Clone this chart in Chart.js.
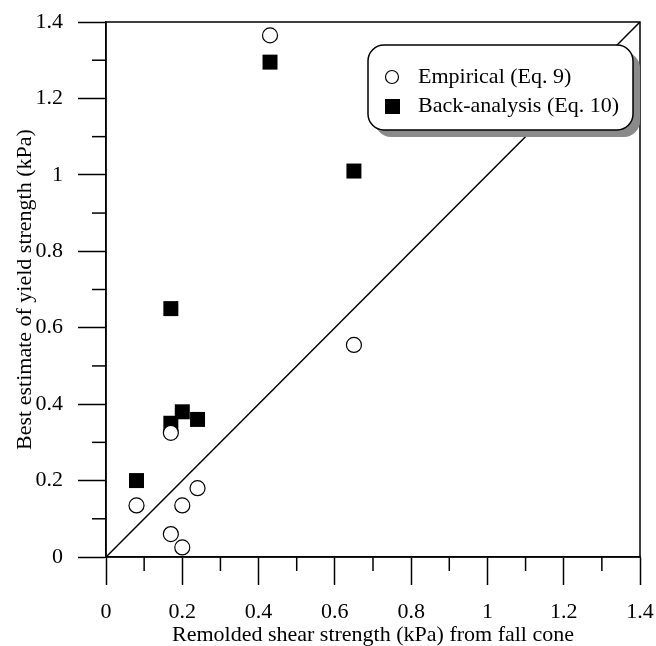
<!DOCTYPE html>
<html>
<head>
<meta charset="utf-8">
<script src="https://cdn.jsdelivr.net/npm/chart.js@4/dist/chart.umd.min.js"></script>
<style>
  body { margin: 0; background: #fff; }
  #wrap { width: 656px; height: 646px; }
</style>
</head>
<body>
<div id="wrap"><canvas id="myChart" width="656" height="646"></canvas></div>
<script>
const empiricalX = [0.08, 0.17, 0.17, 0.2, 0.2, 0.24, 0.43, 0.65];
const empiricalY = [0.135, 0.325, 0.06, 0.135, 0.025, 0.18, 1.365, 0.555];
const backX = [0.08, 0.17, 0.17, 0.2, 0.24, 0.43, 0.65];
const backY = [0.2, 0.65, 0.35, 0.38, 0.36, 1.295, 1.01];
const lineX = [0, 1.4];
const lineY = [0, 1.4];
const tickLabels = ['0', '0.2', '0.4', '0.6', '0.8', '1', '1.2', '1.4'];
const minorTicks = [0.1, 0.3, 0.5, 0.7, 0.9, 1.1, 1.3];

const ctx = document.getElementById('myChart').getContext('2d');
Chart.defaults.font.family = "'Liberation Serif', 'Times New Roman', serif";
Chart.defaults.font.size = 22;
Chart.defaults.color = '#000';

const toPoints = (xs, ys) => xs.map((x, i) => ({ x: x, y: ys[i] }));

// frame, minor ticks and the boxed legend
const framePlugin = {
  id: 'framePlugin',
  afterDatasetsDraw(chart) {
    const { ctx, chartArea: a, scales: { x, y } } = chart;
    ctx.save();
    ctx.strokeStyle = '#000';
    ctx.lineWidth = 1.5;
    ctx.strokeRect(a.left, a.top, a.right - a.left, a.bottom - a.top);
    minorTicks.forEach(v => {
      const px = x.getPixelForValue(v);
      ctx.beginPath();
      ctx.moveTo(px, a.bottom);
      ctx.lineTo(px, a.bottom + 14);
      ctx.stroke();
      const py = y.getPixelForValue(v);
      ctx.beginPath();
      ctx.moveTo(a.left, py);
      ctx.lineTo(a.left - 14, py);
      ctx.stroke();
    });

    // legend box
    const lx = a.right - 272, ly = a.top + 23, lw = 265, lh = 85, r = 16;
    const rr = (ox, oy) => {
      ctx.beginPath();
      ctx.roundRect(lx + ox, ly + oy, lw, lh, r);
    };
    rr(7, 7);
    ctx.fillStyle = '#8a8a8a';
    ctx.fill();
    rr(0, 0);
    ctx.fillStyle = '#fff';
    ctx.fill();
    ctx.lineWidth = 1.5;
    ctx.strokeStyle = '#000';
    ctx.stroke();

    const ds = chart.data.datasets;
    // circle marker
    ctx.beginPath();
    ctx.arc(lx + 24, ly + 32, 6.5, 0, Math.PI * 2);
    ctx.fillStyle = '#fff';
    ctx.fill();
    ctx.lineWidth = 1.2;
    ctx.stroke();
    // square marker
    ctx.fillStyle = '#000';
    ctx.fillRect(lx + 17, ly + 54, 15, 15);

    ctx.font = "22px 'Liberation Serif'";
    ctx.textBaseline = 'middle';
    ctx.textAlign = 'left';
    ctx.fillText(ds[0].label, lx + 50, ly + 32);
    ctx.fillText(ds[1].label, lx + 50, ly + 61);
    ctx.restore();
  }
};

new Chart(ctx, {
  type: 'scatter',
  data: {
    datasets: [{
      label: 'Empirical (Eq. 9)',
      data: toPoints(empiricalX, empiricalY),
      pointStyle: 'circle',
      pointRadius: 7.5,
      backgroundColor: '#fff',
      borderColor: '#000',
      borderWidth: 1.2
    }, {
      label: 'Back-analysis (Eq. 10)',
      data: toPoints(backX, backY),
      pointStyle: 'rect',
      pointRadius: 10.6,
      backgroundColor: '#000',
      borderColor: '#000',
      borderWidth: 0
    }, {
      label: '1:1',
      type: 'line',
      data: toPoints(lineX, lineY),
      showLine: true,
      pointRadius: 0,
      borderColor: '#000',
      borderWidth: 1.5
    }]
  },
  options: {
    responsive: false,
    animation: false,
    layout: {
      padding: { top: 22, right: 16, left: 0, bottom: 0 }
    },
    plugins: {
      legend: { display: false },
      tooltip: { enabled: false }
    },
    scales: {
      x: {
        type: 'linear',
        min: 0,
        max: 1.4,
        afterFit: (scale) => {
          scale.height = 89;
          scale.paddingLeft = 0;
          scale.paddingRight = 0;
        },
        ticks: {
          stepSize: 0.2,
          padding: 14,
          maxRotation: 0,
          callback: (v, i) => tickLabels[i]
        },
        grid: {
          drawOnChartArea: false,
          tickLength: 28,
          tickWidth: 1.5,
          color: '#000'
        },
        border: { color: '#000', width: 1.5 },
        title: {
          display: true,
          text: 'Remolded shear strength (kPa) from fall cone',
          font: { lineHeight: 1 },
          padding: { top: 0, bottom: 0 }
        }
      },
      y: {
        type: 'linear',
        min: 0,
        max: 1.4,
        afterFit: (scale) => {
          scale.width = 106;
          scale.paddingTop = 0;
          scale.paddingBottom = 0;
        },
        ticks: {
          stepSize: 0.2,
          padding: 15,
          callback: (v, i) => tickLabels[i]
        },
        grid: {
          drawOnChartArea: false,
          tickLength: 28,
          tickWidth: 1.5,
          color: '#000'
        },
        border: { color: '#000', width: 1.5 },
        title: {
          display: true,
          text: 'Best estimate of yield strength (kPa)',
          padding: { top: 12, bottom: 0 }
        }
      }
    }
  },
  plugins: [framePlugin]
});
</script>
</body>
</html>
